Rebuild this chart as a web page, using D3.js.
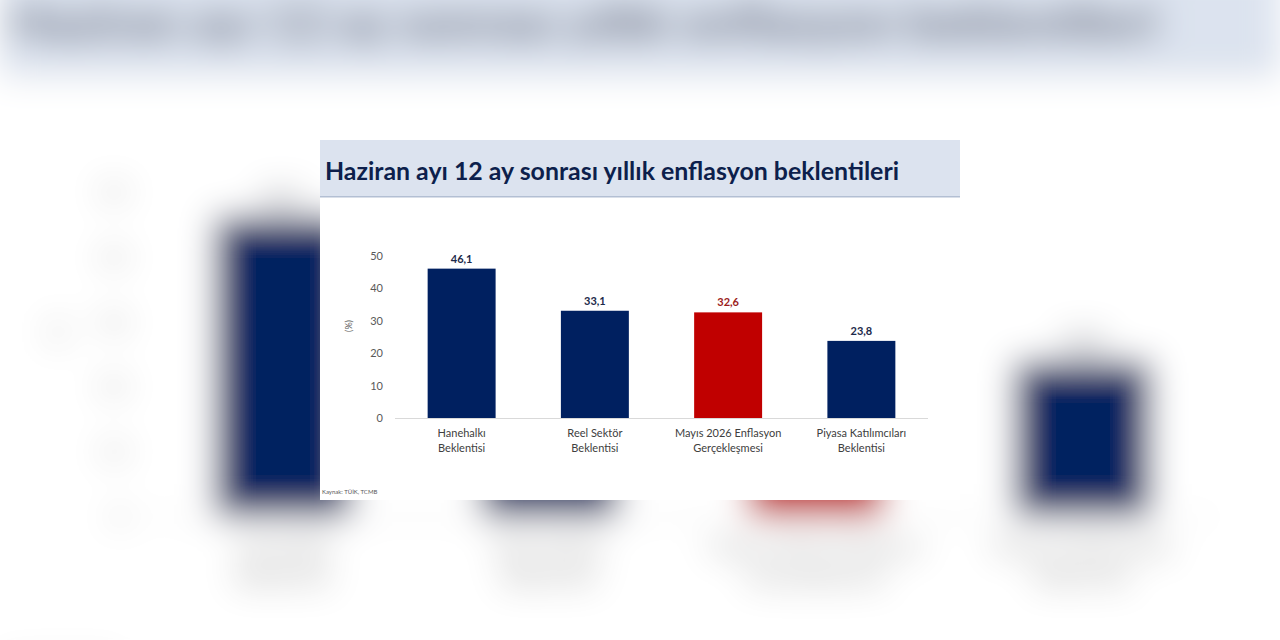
<!DOCTYPE html>
<html>
<head>
<meta charset="utf-8">
<script src="https://cdn.jsdelivr.net/npm/d3@7"></script>
<style>
  html, body { margin: 0; padding: 0; background: #ffffff; }
  svg { display: block; }
</style>
</head>
<body>
<svg id="root" width="1280" height="640"></svg>
<script>
// ---- data ----
const titleText = "Haziran ayı 12 ay sonrası yıllık enflasyon beklentileri";
const categories = [
  ["Hanehalkı", "Beklentisi"],
  ["Reel Sektör", "Beklentisi"],
  ["Mayıs 2026 Enflasyon", "Gerçekleşmesi"],
  ["Piyasa Katılımcıları", "Beklentisi"]
];
const values = [46.1, 33.1, 32.6, 23.8];
const valueLabels = ["46,1", "33,1", "32,6", "23,8"];
const highlight = [false, false, true, false];
const yTicks = [0, 10, 20, 30, 40, 50];
const yTitle = "(%)";
const sourceText = "Kaynak: TÜİK, TCMB";

const NAVY = "#002060", RED = "#C00000";
const FONT = "Lato, 'Open Sans', sans-serif";

const svg = d3.select("#root");

const defs = svg.append("defs");
defs.append("filter")
  .attr("id", "blur")
  .attr("filterUnits", "userSpaceOnUse")
  .attr("x", -100).attr("y", -100).attr("width", 1480).attr("height", 840)
  .append("feGaussianBlur").attr("stdDeviation", 17);

function drawChart(g) {
  const W = 640, H = 360;
  // white card
  g.append("rect").attr("x", 0).attr("y", 0).attr("width", W).attr("height", H).attr("fill", "#ffffff");
  // title band
  g.append("rect").attr("x", 0).attr("y", 0).attr("width", W).attr("height", 57).attr("fill", "#dce3ef");
  g.append("rect").attr("x", 0).attr("y", 56).attr("width", W).attr("height", 1.5).attr("fill", "#b3bfd3");
  g.append("text")
    .attr("x", 5).attr("y", 40)
    .attr("font-family", FONT).attr("font-weight", 700).attr("font-size", 25)
    .attr("fill", "#0d1f4c")
    .attr("textLength", 574).attr("lengthAdjust", "spacingAndGlyphs")
    .text(titleText);

  const x = d3.scaleBand().domain(d3.range(categories.length)).range([75, 608])
    .paddingInner(0.49).paddingOuter(0.245);
  const y = d3.scaleLinear().domain([0, 50]).range([278, 116]);

  // y axis (tick labels only)
  const yAxis = d3.axisLeft(y).tickValues(yTicks).tickSize(0).tickPadding(0).tickFormat(d3.format("d"));
  const ya = g.append("g").attr("transform", "translate(63,0)").call(yAxis);
  ya.select(".domain").remove();
  ya.selectAll("text").attr("font-family", FONT).attr("font-size", 11).attr("fill", "#595959");

  g.append("text")
    .attr("transform", "translate(32,186) rotate(-90)")
    .attr("text-anchor", "middle")
    .attr("font-family", FONT).attr("font-size", 9).attr("fill", "#595959")
    .text(yTitle);

  // baseline
  g.append("line").attr("x1", 75).attr("x2", 608).attr("y1", y(0) + 0.5).attr("y2", y(0) + 0.5)
    .attr("stroke", "#d9d9d9").attr("stroke-width", 1);

  // bars
  g.selectAll("rect.bar").data(values).join("rect").attr("class", "bar")
    .attr("x", (d, i) => x(i)).attr("width", x.bandwidth())
    .attr("y", d => y(d)).attr("height", d => y(0) - y(d))
    .attr("fill", (d, i) => highlight[i] ? RED : NAVY);

  // value labels
  g.selectAll("text.val").data(values).join("text").attr("class", "val")
    .attr("x", (d, i) => x(i) + x.bandwidth() / 2).attr("y", d => y(d) - 6)
    .attr("text-anchor", "middle")
    .attr("font-family", FONT).attr("font-weight", 700).attr("font-size", 11)
    .attr("fill", (d, i) => highlight[i] ? "#9b1c1c" : "#1c2a4a")
    .text((d, i) => valueLabels[i]);

  // category labels
  const cl = g.selectAll("text.cat").data(categories).join("text").attr("class", "cat")
    .attr("text-anchor", "middle")
    .attr("font-family", FONT).attr("font-size", 11).attr("fill", "#404040");
  cl.selectAll("tspan").data((d, i) => d.map(t => ({ t, i }))).join("tspan")
    .attr("x", d => x(d.i) + x.bandwidth() / 2)
    .attr("y", (d, j) => 297 + j * 15)
    .text(d => d.t);

  // source
  g.append("text").attr("x", 2).attr("y", 354)
    .attr("font-family", FONT).attr("font-size", 6).attr("fill", "#595959")
    .text(sourceText);
}

// blurred enlarged background
const bg = svg.append("g").attr("filter", "url(#blur)").attr("aria-hidden", "true");
drawChart(bg.append("g").attr("transform", "translate(0,-40) scale(2)"));

// main chart
drawChart(svg.append("g").attr("transform", "translate(320,140)"));
</script>
</body>
</html>
